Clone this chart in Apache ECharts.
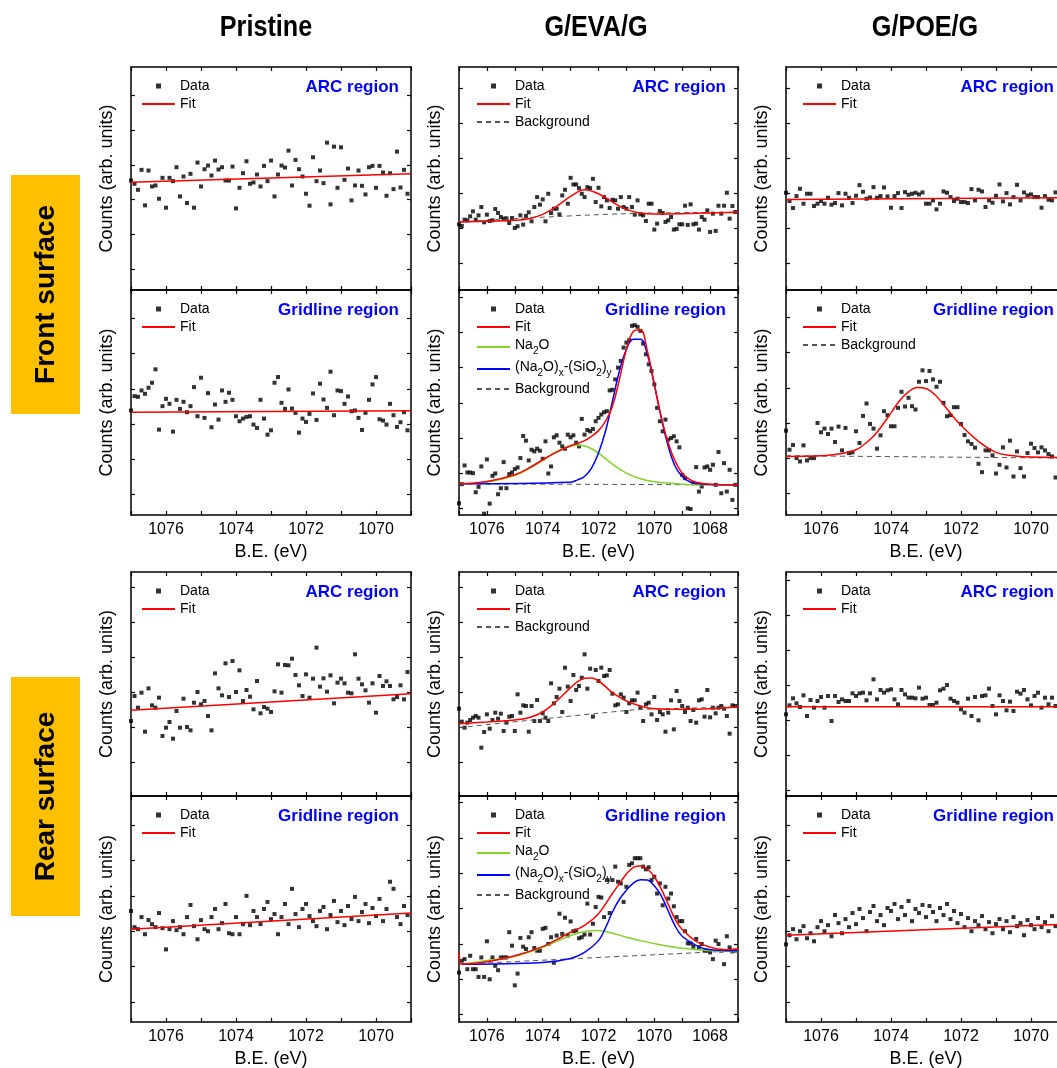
<!DOCTYPE html>
<html>
<head>
<meta charset="utf-8">
<script src="https://cdn.jsdelivr.net/npm/echarts@6/dist/echarts.min.js"></script>
<style>
  html, body { margin: 0; padding: 0; background: #fff; }
  #chart { width: 1057px; height: 1068px; }
</style>
</head>
<body>
<div id="chart"></div>
<script>
// energy scan of every spectrum: first point and step (eV), points go downwards
const scanStart = 1077;
const scanStep = 0.1;

const sampleTitles = ['Pristine', 'G/EVA/G', 'G/POE/G'];
const surfaceTitles = ['Front surface', 'Rear surface'];
const regionTitles = ['ARC region', 'Gridline region'];
const xTickLabels = [1076, 1074, 1072, 1070, 1068];

// ---- front surface, ARC region (counts, arb. units) ----
const frontPristineArc = [330,320,302,362,255,360,312,315,275,338, 248,338,328,370,282,342,262,350,248,384,
  312,364,375,345,390,363,370,330,330,372, 246,308,352,388,320,324,348,312,374,328,
  390,282,348,375,369,420,315,392,364,342, 290,254,400,328,360,322,444,258,432,308,
  430,332,366,270,315,360,314,288,370,374, 308,374,354,284,352,304,417,309,362,290];
const frontPristineArcFit = [[1077, 325], [1069, 350]];

const frontEvaArc = [198,193,212,210,222,237,212,225,250,204, 227,208,210,244,232,220,215,216,202,217,
  187,192,225,197,223,234,207,250,280,257, 273,207,290,232,245,245,228,285,302,260,
  338,318,318,307,290,280,310,307,335,265, 308,252,280,270,247,272,270,245,280,250,
  245,280,250,227,270,228,225,208,260,260, 182,200,238,232,205,210,220,182,184,198,
  198,254,196,258,198,200,182,220,212,240, 175,230,178,254,230,254,293,215,253,235];
const frontEvaArcFit = [[1077,205],[1076,207],[1075,210],[1074.5,215],[1074,228],[1073.5,252],[1073,282],
  [1072.5,302],[1072,290],[1071.5,265],[1071,243],[1070.5,232],[1070,229],[1069,230],[1068,232],[1067,234]];
const frontEvaArcBg = [[1077,205],[1071,230],[1067,234]];

const frontPoeArc = [293,268,247,283,305,260,290,290,253,260, 268,260,278,257,262,292,255,290,278,262,
  284,316,296,275,279,310,278,283,309,282, 248,283,292,247,295,287,290,293,288,294,
  260,260,270,243,260,297,293,280,268,275, 265,265,262,304,270,302,297,250,270,263,
  284,318,267,292,258,280,317,270,294,285, 288,280,280,248,283,272,270,294,240,296];
const frontPoeArcFit = [[1077, 273], [1069, 278]];

// ---- front surface, gridline region ----
const frontPristineGrid = [312,355,353,372,362,380,395,435,255,325, 347,332,249,344,317,338,307,325,382,295,
  410,290,364,262,330,285,372,338,365,344, 295,280,288,293,295,270,260,344,288,240,
  253,395,412,335,317,375,318,305,246,288, 278,302,363,284,392,345,320,428,298,372,
  370,332,354,310,312,290,254,305,344,390, 412,286,282,270,332,298,263,277,307,253];
const frontPristineGridFit = [[1077, 307], [1069, 311]];

const frontEvaGrid = [35,92,148,127,127,125,68,84,145,4, 166,34,117,124,62,80,158,80,122,127,
  137,142,170,236,222,163,195,190,198,192, 168,220,124,145,232,238,216,205,198,240,
  232,238,216,205,287,240,254,250,257,280, 290,300,307,310,372,374,405,440,460,500,
  515,522,565,567,562,550,512,480,450,430, 390,320,280,250,285,225,230,235,220,202,
  120,110,20,18,95,143,70,85,142,145, 135,150,90,188,65,155,70,135,45,90];
const frontEvaGridFit = [[1077,93],[1076,100],[1075,120],[1074.5,140],[1074,165],[1073.5,188],[1073,207],
  [1072.75,214],[1072.5,222],[1072.25,235],[1072,252],[1071.75,280],[1071.5,325],[1071.25,405],[1071,495],
  [1070.75,548],[1070.5,553],[1070.25,490],[1070,390],[1069.75,292],[1069.5,215],[1069.25,160],[1069,125],
  [1068.75,107],[1068.5,98],[1068,92],[1067,90]];
const frontEvaGridNa2O = [[1077,93],[1076,98],[1075,118],[1074.5,138],[1074,163],[1073.5,190],[1073,205],
  [1072.75,208],[1072.5,206],[1072.25,198],[1072,185],[1071.5,152],[1071,125],[1070.5,108],[1070,99],
  [1069,92],[1068,90],[1067,90]];
const frontEvaGridSilicate = [[1077,93],[1073,98],[1072.75,105],[1072.5,115],[1072.25,140],[1072,185],
  [1071.75,250],[1071.5,340],[1071.25,430],[1071,495],[1070.75,525],[1070.5,525],[1070.25,480],[1070,390],
  [1069.75,290],[1069.5,205],[1069.25,145],[1069,115],[1068.75,100],[1068.5,94],[1068,91],[1067,90]];
const frontEvaGridBg = [[1077, 93], [1067, 90]];

const frontPoeGrid = [252,195,209,170,160,208,163,170,170,275, 247,258,242,258,218,264,193,260,185,187,
  250,215,296,333,272,258,198,238,310,298, 265,265,320,368,324,350,325,315,398,432,
  400,430,405,383,398,335,295,298,322,322, 272,239,220,212,201,153,128,193,193,178,
  124,150,202,142,222,115,190,140,115,185, 213,200,187,202,193,182,175,112,175,185];
const frontPoeGridFit = [[1077,175],[1076,177],[1075.5,182],[1075,195],[1074.75,212],[1074.5,235],[1074.25,268],
  [1074,305],[1073.75,342],[1073.5,368],[1073.25,381],[1073,378],[1072.75,360],[1072.5,330],[1072.25,297],
  [1072,268],[1071.5,220],[1071,187],[1070.5,177],[1070,173],[1069,172]];
const frontPoeGridBg = [[1077, 177], [1069, 170]];

// ---- rear surface, ARC region ----
const rearPristineArc = [225,300,265,310,193,323,272,265,295,180, 205,222,172,255,205,292,207,197,280,312,
  275,285,240,197,368,323,302,398,297,405, 312,377,285,318,298,260,345,248,267,262,
  252,314,395,310,393,392,412,363,332,300, 365,295,352,445,328,353,313,362,278,340,
  352,338,310,308,425,352,335,317,280,338, 250,360,330,344,330,290,297,332,290,372];
const rearPristineArcFit = [[1077, 257], [1069, 307]];

const rearEvaArc = [262,223,205,220,228,235,240,235,145,192, 245,202,228,250,232,247,195,220,238,240,
  195,305,250,272,270,193,270,225,288,225, 248,235,225,338,278,297,322,252,385,328,
  285,363,318,330,355,425,322,382,238,378, 345,385,360,362,378,307,272,275,305,295,
  252,278,287,287,310,265,225,275,280,245, 297,228,252,245,193,250,287,200,315,285,
  270,252,265,225,258,220,287,290,238,318, 236,265,248,265,270,262,240,187,272,270];
const rearEvaArcFit = [[1077,217],[1076,222],[1075,228],[1074.5,235],[1074,252],[1073.5,285],[1073,325],
  [1072.75,343],[1072.5,353],[1072.25,354],[1072,345],[1071.75,328],[1071.5,310],[1071,285],[1070.5,270],
  [1070,262],[1069,260],[1068,262],[1067,267]];
const rearEvaArcBg = [[1077,205],[1070.8,258],[1070,261],[1067,267]];

const rearPoeArc = [245,272,293,278,267,302,240,288,265,285, 297,265,300,225,300,282,290,285,285,308,
  300,308,310,287,308,350,290,318,310,317, 320,290,275,318,305,295,295,293,325,292,
  295,273,273,280,317,322,333,292,285,280, 260,250,292,240,297,227,300,302,322,270,
  245,302,285,257,283,255,313,307,318,290, 272,300,310,265,295,275,295,270,280,270];
const rearPoeArcFit = [[1077, 268], [1069, 268]];

// ---- rear surface, gridline region ----
const rearPristineGrid = [330,282,276,312,261,303,291,282,324,279, 216,276,300,273,282,261,312,348,285,246,
  303,276,270,312,336,276,294,351,264,261, 312,261,291,375,288,330,312,291,336,357,
  306,321,261,312,351,291,396,321,282,336, 351,315,300,285,330,342,276,318,360,297,
  330,288,345,306,372,300,327,351,294,339, 315,366,300,336,417,396,312,291,345,318];
const rearPristineGridFit = [[1077, 276], [1069, 324]];

const rearEvaGrid = [147,182,187,157,197,157,157,134,192,134, 240,127,192,167,154,192,192,192,267,227,
  109,144,250,224,217,252,267,220,212,212, 277,280,232,252,176,257,322,262,310,257,
  299,270,272,249,252,260,352,260,292,342, 372,370,312,422,324,422,462,417,412,357,
  402,467,472,487,487,487,462,454,460,422, 432,382,412,347,402,367,382,344,312,300,
  300,270,234,234,224,247,222,232,212,212, 207,187,242,232,212,172,255,222,210,212];
const rearEvaGridFit = [[1077,207],[1076.92,172],[1076,179],[1075,197],[1074,224],[1073.5,245],[1073,267],
  [1072.5,287],[1072,322],[1071.5,382],[1071,440],[1070.75,460],[1070.5,464],[1070.25,455],[1070,432],
  [1069.75,395],[1069.5,350],[1069.25,305],[1069,275],[1068.5,240],[1068,222],[1067.5,215],[1067,217]];
const rearEvaGridNa2O = [[1076.92,172],[1076,183],[1075,195],[1074,222],[1073.5,240],[1073,257],[1072.5,269],
  [1072,272],[1071.5,264],[1071,252],[1070.5,242],[1070,233],[1069.5,225],[1069,219],[1068.5,215],[1068,212],[1067,209]];
const rearEvaGridSilicate = [[1076.92,172],[1074,177],[1073,189],[1072.5,207],[1072,242],[1071.75,280],[1071.5,327],
  [1071.25,365],[1071,392],[1070.75,413],[1070.5,423],[1070.25,422],[1070,405],[1069.75,375],[1069.5,330],
  [1069.25,285],[1069,255],[1068.5,228],[1068,215],[1067,212]];
const rearEvaGridBg = [[1076.92, 172], [1067, 212]];

const rearPoeGrid = [231,258,276,246,270,285,249,264,240,282, 300,270,288,255,318,294,264,306,282,324,
  291,336,309,270,327,345,300,318,288,339, 330,351,306,342,318,360,300,336,324,348,
  312,345,327,300,339,318,351,306,330,294, 321,282,309,270,300,288,315,276,297,264,
  291,306,276,300,267,312,285,294,258,303, 288,276,309,282,297,270,315,285,300,279];
const rearPoeGridFit = [[1077, 258], [1069, 291]];

// ---- layout ----
const FONT = '"Liberation Sans", Arial, Helvetica, sans-serif';
const Y_MAX = 672;
const cols = [
  { left: 131, width: 280, xMin: 1069, legendLeft: 141, titleX: 266 },
  { left: 459, width: 279, xMin: 1067, legendLeft: 476, titleX: 596 },
  { left: 786, width: 280, xMin: 1069, legendLeft: 802, titleX: 925 }
];
const rows = [
  { top: 67, height: 223 },
  { top: 290, height: 225 },
  { top: 572, height: 224 },
  { top: 796, height: 226 }
];
const bands = [{ top: 175, height: 239 }, { top: 677, height: 239 }];

const panels = [
  { row: 0, col: 0, region: 0, data: frontPristineArc, fit: frontPristineArcFit, tick0: 62 },
  { row: 0, col: 1, region: 0, data: frontEvaArc, fit: frontEvaArcFit, bg: frontEvaArcBg, tick0: 82 },
  { row: 0, col: 2, region: 0, data: frontPoeArc, fit: frontPoeArcFit, tick0: 82 },
  { row: 1, col: 0, region: 1, data: frontPristineGrid, fit: frontPristineGridFit, tick0: 62 },
  { row: 1, col: 1, region: 1, data: frontEvaGrid, fit: frontEvaGridFit, na2o: frontEvaGridNa2O,
    silicate: frontEvaGridSilicate, bg: frontEvaGridBg, tick0: 20 },
  { row: 1, col: 2, region: 1, data: frontPoeGrid, fit: frontPoeGridFit, bg: frontPoeGridBg, tick0: 65 },
  { row: 2, col: 0, region: 0, data: rearPristineArc, fit: rearPristineArcFit, tick0: 100 },
  { row: 2, col: 1, region: 0, data: rearEvaArc, fit: rearEvaArcFit, bg: rearEvaArcBg, tick0: 100 },
  { row: 2, col: 2, region: 0, data: rearPoeArc, fit: rearPoeArcFit, tick0: 17 },
  { row: 3, col: 0, region: 1, data: rearPristineGrid, fit: rearPristineGridFit, tick0: 60 },
  { row: 3, col: 1, region: 1, data: rearEvaGrid, fit: rearEvaGridFit, na2o: rearEvaGridNa2O,
    silicate: rearEvaGridSilicate, bg: rearEvaGridBg, tick0: 22 },
  { row: 3, col: 2, region: 1, data: rearPoeGrid, fit: rearPoeGridFit, tick0: 60 }
];

const COLORS = { fit: '#ff0000', na2o: '#84d12a', silicate: '#0000ff', bg: '#555555', text: '#0000ff' };

// small black square in the middle of the legend slot for the "Data" entry
const DATA_ICON = 'image://data:image/svg+xml;charset=utf-8,' + encodeURIComponent(
  '<svg xmlns="http://www.w3.org/2000/svg" width="33" height="14" viewBox="0 0 33 14">' +
  '<rect x="14" y="4.5" width="5" height="5" fill="#000"/></svg>');

const legendRich = {
  b: { fontSize: 14, fontFamily: FONT, color: '#000', padding: [0, 0, 4, 0], verticalAlign: 'bottom' },
  s: { fontSize: 10, fontFamily: FONT, color: '#000', verticalAlign: 'bottom' }
};
function legendName(name) {
  if (name === 'Na2O') return '{b|Na}{s|2}{b|O}';
  if (name === '(Na2O)x-(SiO2)y') return '{b|(Na}{s|2}{b|O)}{s|x}{b|-(SiO}{s|2}{b|)}{s|y}';
  return name;
}

const grid = [], xAxis = [], yAxis = [], series = [], legend = [], graphic = [];

panels.forEach((p, k) => {
  const c = cols[p.col];
  const r = rows[p.row];
  const isGrid = p.region === 1;
  const yTicks = [];
  for (let t = p.tick0; t < Y_MAX; t += 105) yTicks.push(t);

  grid.push({ left: c.left, top: r.top, width: c.width, height: r.height, show: false, outerBoundsMode: 'none' });

  const axisLine = { show: true, onZero: false, lineStyle: { color: '#000', width: 1.5 } };
  const tick = { show: true, inside: true, length: 4, lineStyle: { color: '#000', width: 1.2 } };

  xAxis.push({
    gridIndex: k, type: 'value', inverse: true, min: c.xMin, max: scanStart, interval: 1,
    axisLine, axisTick: tick, splitLine: { show: false },
    axisLabel: {
      show: isGrid, margin: 7, fontSize: 16, color: '#000', fontFamily: FONT,
      formatter: v => (xTickLabels.includes(v) ? String(v) : '')
    },
    name: isGrid ? 'B.E. (eV)' : '', nameLocation: 'middle', nameGap: 28,
    nameTextStyle: { fontSize: 18, color: '#000', fontFamily: FONT }
  });
  xAxis.push({
    gridIndex: k, type: 'value', position: 'top', inverse: true, min: c.xMin, max: scanStart, interval: 1,
    axisLine, axisTick: tick, axisLabel: { show: false }, splitLine: { show: false }
  });
  yAxis.push({
    gridIndex: k, type: 'value', min: 0, max: Y_MAX, position: 'left',
    axisLine, axisTick: { ...tick, customValues: yTicks }, axisLabel: { show: false },
    splitLine: { show: false },
    name: 'Counts (arb. units)', nameLocation: 'middle', nameGap: 15,
    nameTextStyle: { fontSize: 18, color: '#000', fontFamily: FONT }
  });
  yAxis.push({
    gridIndex: k, type: 'value', min: 0, max: Y_MAX, position: 'right',
    axisLine, axisTick: { ...tick, customValues: yTicks }, axisLabel: { show: false },
    splitLine: { show: false }
  });

  series.push({
    type: 'scatter', name: 'Data', xAxisIndex: 2 * k, yAxisIndex: 2 * k,
    data: p.data.map((v, i) => [scanStart - scanStep * i, v]),
    symbol: 'rect', symbolSize: 4, itemStyle: { color: '#000' }, z: 2, silent: true
  });
  const addLine = (name, pts, color, dashed) => series.push({
    type: 'line', name, xAxisIndex: 2 * k, yAxisIndex: 2 * k, data: pts,
    showSymbol: false, symbol: 'none', smooth: pts.length > 2 ? 0.4 : false,
    lineStyle: { color, width: dashed ? 1 : 1.5, type: dashed ? [5, 4] : 'solid' },
    itemStyle: { color }, z: 3, silent: true
  });
  if (p.bg) addLine('Background', p.bg, COLORS.bg, true);
  if (p.na2o) addLine('Na2O', p.na2o, COLORS.na2o, false);
  if (p.silicate) addLine('(Na2O)x-(SiO2)y', p.silicate, COLORS.silicate, false);
  addLine('Fit', p.fit, COLORS.fit, false);

  const names = ['Data', 'Fit'];
  if (p.na2o) names.push('Na2O', '(Na2O)x-(SiO2)y');
  if (p.bg) names.push('Background');
  legend.push({
    orient: 'vertical', left: c.legendLeft, top: r.top + 12, padding: 0,
    itemWidth: 33, itemHeight: 14, itemGap: 4, selectedMode: false,
    // line entries: keep the stroke, hide the marker ECharts puts in the middle
    data: names.map(n => (n === 'Data' ? { name: n, icon: DATA_ICON } : { name: n, itemStyle: { opacity: 0 } })),
    formatter: legendName,
    textStyle: { fontSize: 14, color: '#000', fontFamily: FONT, rich: legendRich }
  });

  graphic.push({
    type: 'text', x: c.left + c.width - 12, y: r.top + 20, silent: true,
    style: {
      text: regionTitles[p.region], align: 'right', verticalAlign: 'middle',
      font: 'bold 17px ' + FONT, fill: COLORS.text
    }
  });
});

sampleTitles.forEach((t, i) => graphic.push({
  type: 'text', x: cols[i].titleX, y: 28, scaleX: 0.84, silent: true,
  style: { text: t, align: 'center', verticalAlign: 'middle', font: 'bold 30px ' + FONT, fill: '#000' }
}));

surfaceTitles.forEach((t, i) => {
  const b = bands[i];
  graphic.push({
    type: 'rect', silent: true, shape: { x: 11, y: b.top, width: 69, height: b.height },
    style: { fill: '#ffc000' }
  });
  graphic.push({
    type: 'text', x: 46, y: b.top + b.height / 2, rotation: Math.PI / 2, silent: true,
    style: { text: t, align: 'center', verticalAlign: 'middle', font: 'bold 28px ' + FONT, fill: '#000' }
  });
});

const chart = echarts.init(document.getElementById('chart'));
chart.setOption({
  animation: false,
  backgroundColor: '#fff',
  grid, xAxis, yAxis, series, legend, graphic
});
</script>
</body>
</html>
